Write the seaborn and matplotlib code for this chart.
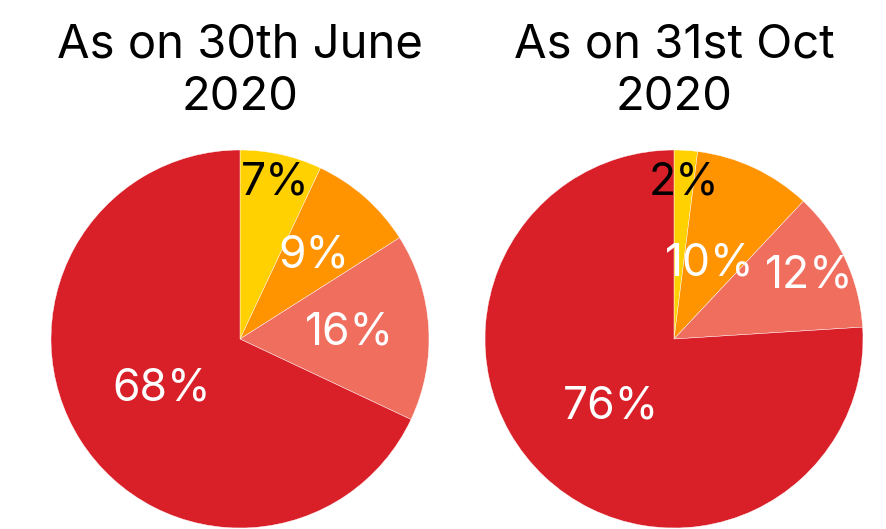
import matplotlib
matplotlib.use("Agg")
import matplotlib.pyplot as plt
import seaborn as sns
import numpy as np

title_lines = [["As on 30th June", "2020"], ["As on 31st Oct", "2020"]]
categories = ["A", "B", "C", "D"]
june_values = [7, 9, 16, 68]
oct_values = [2, 10, 12, 76]
colors = ["#FFD100", "#FF9300", "#F06E5E", "#D92029"]
label_colors = ["black", "white", "white", "white"]
label_dist_june = [0.85, 0.59, 0.58, 0.49]
label_dist_oct = [0.83, 0.44, 0.79, 0.49]

sns.set_theme(style="white")
plt.rcParams['font.family'] = ['Inter', 'DejaVu Sans']

W, H = 886, 529
fig = plt.figure(figsize=(W/100, H/100), dpi=100)

centers = [(240, 339), (674, 339)]
R = 189
datasets = [(june_values, label_dist_june), (oct_values, label_dist_oct)]
FS = 32
TFS = 34
baselines = [57, 110]

for (cx, cy), (vals, dists), lines in zip(centers, datasets, title_lines):
    ax = fig.add_axes([(cx - R)/W, (H - cy - R)/H, 2*R/W, 2*R/H])
    wedges, _ = ax.pie(vals, colors=colors, startangle=90, counterclock=False,
                       radius=1, wedgeprops=dict(linewidth=0.3, edgecolor="white"))
    total = sum(vals)
    for w, v, d, c in zip(wedges, vals, dists, label_colors):
        ang = np.deg2rad((w.theta1 + w.theta2) / 2)
        ax.text(d*np.cos(ang), d*np.sin(ang), f"{round(100*v/total)}%",
                ha="center", va="center", fontsize=FS, color=c)
    ax.set_xlim(-1, 1)
    ax.set_ylim(-1, 1)
    ax.set_aspect("equal")
    ax.axis("off")
    for line, b in zip(lines, baselines):
        fig.text(cx/W, 1 - b/H, line, ha="center", va="baseline", fontsize=TFS,
                 color="black")

fig.savefig("out.png", dpi=100, facecolor="white")
